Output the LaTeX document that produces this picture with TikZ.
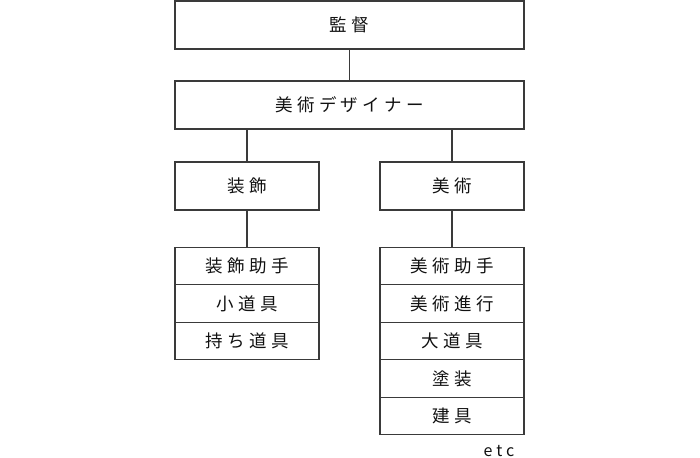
\documentclass[tikz,border=0pt]{standalone}
\usepackage{fontspec}
\setmainfont{Noto Sans CJK JP}[LetterSpace=25]
\usetikzlibrary{positioning}
\definecolor{linegray}{HTML}{3A3A3A}
\definecolor{textgray}{HTML}{111111}

\begin{document}
\begin{tikzpicture}[
    x=1pt, y=1pt,
    node distance=80pt and 102.5pt, % vertical and horizontal spacing
    on grid,
    box/.style={rectangle, draw=linegray, line width=1.2pt, minimum width=349pt, minimum height=48pt, align=center, text=textgray, font=\fontsize{17.5}{20}\selectfont},
    unit/.style={box, minimum width=144pt},
    row/.style={box, minimum width=144pt, minimum height=37.5pt},
    link/.style={draw=linegray, line width=1.2pt}
]
    \useasboundingbox (0,0) rectangle (700,-457);

    % Top two levels
    \node[box] (director) at (349.5,-25) {監督};
    \node[box, below=of director] (designer) {美術デザイナー};

    % Sections
    \node[unit, below left=81pt and 102.5pt of designer] (deco) {装飾};
    \node[unit, below right=81pt and 102.5pt of designer] (art) {美術};

    % Left stack
    \node[row, below=80pt of deco] (decoA) {装飾助手};
    \node[row, below=37.5pt of decoA] (decoB) {小道具};
    \node[row, below=37.5pt of decoB] (decoC) {持ち道具};

    % Right stack
    \node[row, below=80pt of art] (artA) {美術助手};
    \node[row, below=37.5pt of artA] (artB) {美術進行};
    \node[row, below=37.5pt of artB] (artC) {大道具};
    \node[row, below=37.5pt of artC] (artD) {塗装};
    \node[row, below=37.5pt of artD] (artE) {建具};

    \node[text=textgray, font=\fontsize{16}{18}\selectfont, below right=35pt and 47pt of artE] (etc) {etc};

    % Connectors
    \draw[link] (director) -- (designer);
    \draw[link] (designer.south -| deco) -- (deco);
    \draw[link] (designer.south -| art) -- (art);
    \draw[link] (deco) -- (decoA);
    \draw[link] (art) -- (artA);
\end{tikzpicture}
\end{document}
